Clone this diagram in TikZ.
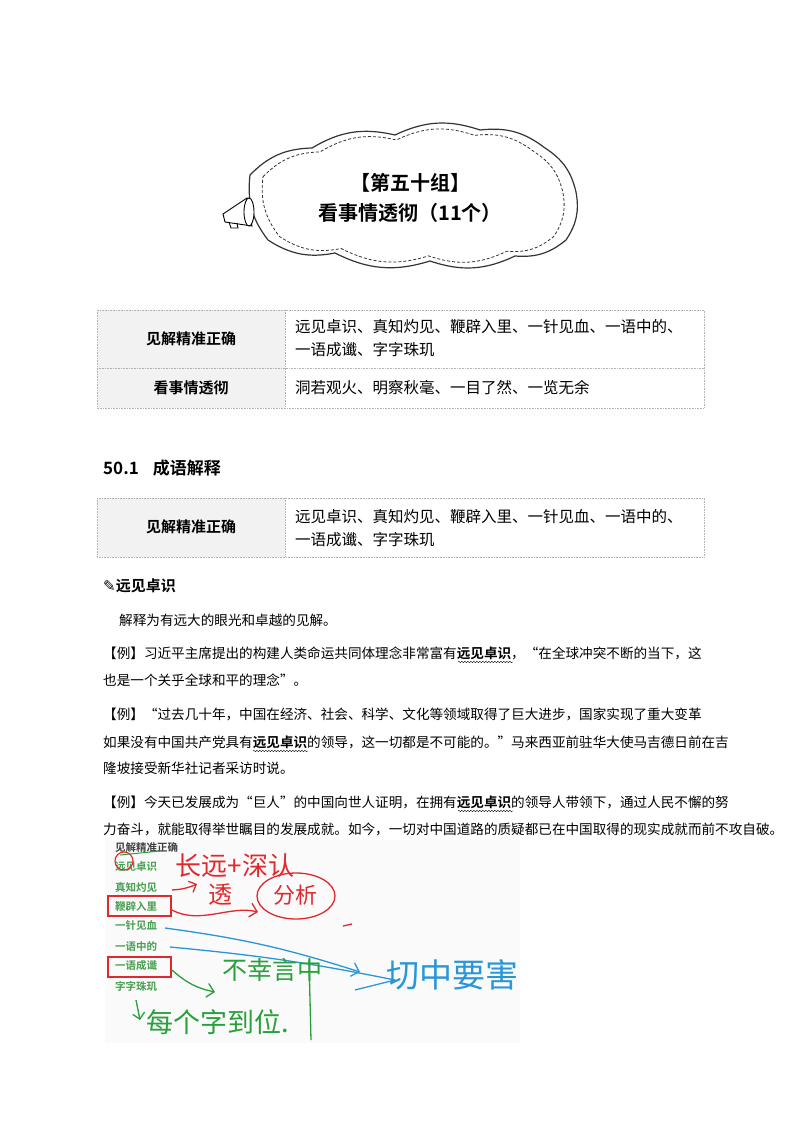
\documentclass[tikz,border=0pt]{standalone}
\usepackage{fontspec}
\setmainfont{Noto Sans CJK SC}[BoldFont={Noto Sans CJK SC Bold}]
\newfontfamily\dv{DejaVu Sans}
\usetikzlibrary{decorations.pathmorphing,arrows.meta}
\definecolor{hred}{RGB}{225,40,45}
\definecolor{hblue}{RGB}{40,150,215}
\definecolor{hgreen}{RGB}{40,160,60}
\definecolor{lgreen}{RGB}{70,160,80}
\tikzset{
 body/.style={anchor=west,inner sep=0pt,font=\fontsize{13.6}{14}\selectfont},
 cell/.style={anchor=west,inner sep=0pt,font=\fontsize{15.5}{16}\selectfont,align=left},
 head/.style={inner sep=0pt,font=\fontsize{15}{16}\selectfont\bfseries},
 tbl/.style={draw=gray!60,densely dotted,line width=0.6pt},
 item/.style={anchor=west,inner sep=0pt,font=\fontsize{10.5}{11}\selectfont\bfseries,text=lgreen},
 hw/.style={inner sep=0pt,line width=1.3pt},
 wavy/.style={decorate,decoration={snake,amplitude=0.7pt,segment length=3pt},line width=0.4pt},
 bump/.style={bend left=22}
}
\newcommand{\cloudpath}{(250,175) to[bump] (312,148) to[bump] (395,135) to[bump] (480,130) to[bump] (545,148) to[bump] (576,192) to[bump] (566,240) to[bump] (515,256) to[bump] (430,261) to[bump] (335,253) to[bump] (268,240) to[bump] (250,175)}
\begin{document}
\begin{tikzpicture}[x=1pt,y=-1pt]
\useasboundingbox (0,0) rectangle (800,1132);
\fill[white] (0,0) rectangle (800,1132);
% cloud
\draw[line width=1.2pt,gray!40!black] \cloudpath;
\begin{scope}[shift={(412,197)},scale=0.92,shift={(-412,-197)}]
\draw[densely dashed,line width=0.8pt,gray!40!black] \cloudpath;
\end{scope}
% megaphone
\draw[line width=0.9pt,fill=white] (223,214) -- (247,198) -- (252,226) -- (225,222) -- cycle;
\draw[line width=0.9pt,fill=white] (249,212) ellipse (5pt and 14pt);
\draw[line width=0.9pt] (229,222) -- (231,228) -- (238,228) -- (237,223);
\node[head,font=\fontsize{20}{22}\selectfont\bfseries] (t1) at (410,183) {【第五十组】};
\node[head,font=\fontsize{20}{22}\selectfont\bfseries] (t2) at (410,213) {看事情透彻（11个）};
% table 1
\fill[gray!10] (97,310) rectangle (285,408);
\draw[tbl] (97,310) rectangle (704,408) (97,368) -- (704,368) (285,310) -- (285,408);
\node[head] (a1) at (191,339) {见解精准正确};
\node[head] (a2) at (191,388) {看事情透彻};
\node[cell] (b1) at (295,327) {远见卓识、真知灼见、鞭辟入里、一针见血、一语中的、};
\node[cell] (b1b) at (295,350) {一语成谶、字字珠玑};
\node[cell] (b2) at (295,388) {洞若观火、明察秋毫、一目了然、一览无余};
% section
\node[anchor=west,inner sep=0pt,font=\fontsize{17}{18}\selectfont\bfseries] (sec) at (103,468) {50.1\hspace{14pt}成语解释};
% table 2
\fill[gray!10] (97,498) rectangle (285,557);
\draw[tbl] (97,498) rectangle (704,557) (285,498) -- (285,557);
\node[head] (c1) at (191,527) {见解精准正确};
\node[cell] (d1) at (295,517) {远见卓识、真知灼见、鞭辟入里、一针见血、一语中的、};
\node[cell] (d1b) at (295,540) {一语成谶、字字珠玑};
% entry
\node[anchor=west,inner sep=0pt,font=\fontsize{15}{16}\selectfont\bfseries] (ent) at (103,586) {{\dv ✎}远见卓识};
\node[body] (l0) at (119,620) {解释为有远大的眼光和卓越的见解。};
\node[body] (l1) at (103,653) {【例】习近平主席提出的构建人类命运共同体理念非常富有\textbf{远见卓识}，“在全球冲突不断的当下，这};
\node[body] (l2) at (103,680) {也是一个关乎全球和平的理念”。};
\node[body] (l3) at (103,714) {【例】“过去几十年，中国在经济、社会、科学、文化等领域取得了巨大进步，国家实现了重大变革};
\node[body] (l4) at (103,742) {如果没有中国共产党具有\textbf{远见卓识}的领导，这一切都是不可能的。”马来西亚前驻华大使马吉德日前在吉};
\node[body] (l5) at (103,768) {隆坡接受新华社记者采访时说。};
\node[body] (l6) at (103,802) {【例】今天已发展成为“巨人”的中国向世人证明，在拥有\textbf{远见卓识}的领导人带领下，通过人民不懈的努};
\node[body] (l7) at (103,829) {力奋斗，就能取得举世瞩目的发展成就。如今，一切对中国道路的质疑都已在中国取得的现实成就而前不攻自破。};
\draw[wavy] (458,662) -- (513,662);
\draw[wavy] (253,751) -- (308,751);
\draw[wavy] (458,811) -- (513,811);
% photo
\fill[gray!4] (105,840) rectangle (520,1043);
\node[item,text=black!75] (p0) at (115,848) {见解精准正确};
\node[item] (p1) at (115,867) {远见卓识};
\node[item] (p2) at (115,887) {真知灼见};
\node[item] (p3) at (115,906) {鞭辟入里};
\node[item] (p4) at (115,926) {一针见血};
\node[item] (p5) at (115,946) {一语中的};
\node[item] (p6) at (115,966) {一语成谶};
\node[item] (p7) at (115,986) {字字珠玑};
\draw[hred,line width=1.2pt] (108,896) rectangle (171,916);
\draw[hred,line width=1.2pt] (108,957) rectangle (171,977);
\draw[hred,line width=1.1pt] (124,861) circle (9pt);
\draw[hgreen,line width=1pt] (120,855) -- (160,851);
% red notes
\node[hw,text=hred,font=\fontsize{26}{26}\selectfont] (r1) at (235,866) {长远+深认};
\coordinate (ra) at (172,890);
\coordinate (rb) at (197,884);
\draw[hred,hw,-{Straight Barb[length=6pt]}] (ra) to[bend right=10] (rb);
\node[hw,text=hred,font=\fontsize{24}{24}\selectfont] (r2) at (220,895) {透};
\node[hw,text=hred,font=\fontsize{22}{22}\selectfont] (r3) at (295,895) {分析};
\draw[hred,hw] (296,896) ellipse (39pt and 23pt);
\coordinate (rc) at (172,910);
\coordinate (rd) at (258,912);
\draw[hred,hw,-{Straight Barb[length=7pt]}] (rc) .. controls (200,925) and (230,905) .. (rd);
\draw[hred,hw] (343,926) -- (352,924);
% blue
\coordinate (ba) at (165,928);
\coordinate (bb) at (360,972);
\coordinate (bc) at (170,947);
\coordinate (bd) at (395,980);
\draw[hblue,hw,-{Straight Barb[length=7pt]}] (ba) to[bend left=5] (bb);
\draw[hblue,hw] (bc) to[bend left=3] (bd);
\draw[hblue,hw] (355,990) -- (395,980);
\node[hw,text=hblue,font=\fontsize{33}{33}\selectfont] (bt) at (452,975) {切中要害};
% green
\coordinate (ga) at (172,970);
\coordinate (gb) at (215,992);
\draw[hgreen,hw,-{Straight Barb[length=7pt]}] (ga) to[bend right=15] (gb);
\node[hw,text=hgreen,font=\fontsize{25}{25}\selectfont] (g1) at (272,970) {不幸言中};
\draw[hgreen,hw] (309,960) -- (311,1040);
\coordinate (gc) at (136,1000);
\coordinate (gd) at (140,1020);
\draw[hgreen,hw,-{Straight Barb[length=6pt]}] (gc) -- (gd);
\node[hw,text=hgreen,font=\fontsize{27}{27}\selectfont] (g2) at (218,1022) {每个字到位.};
\end{tikzpicture}
\end{document}
